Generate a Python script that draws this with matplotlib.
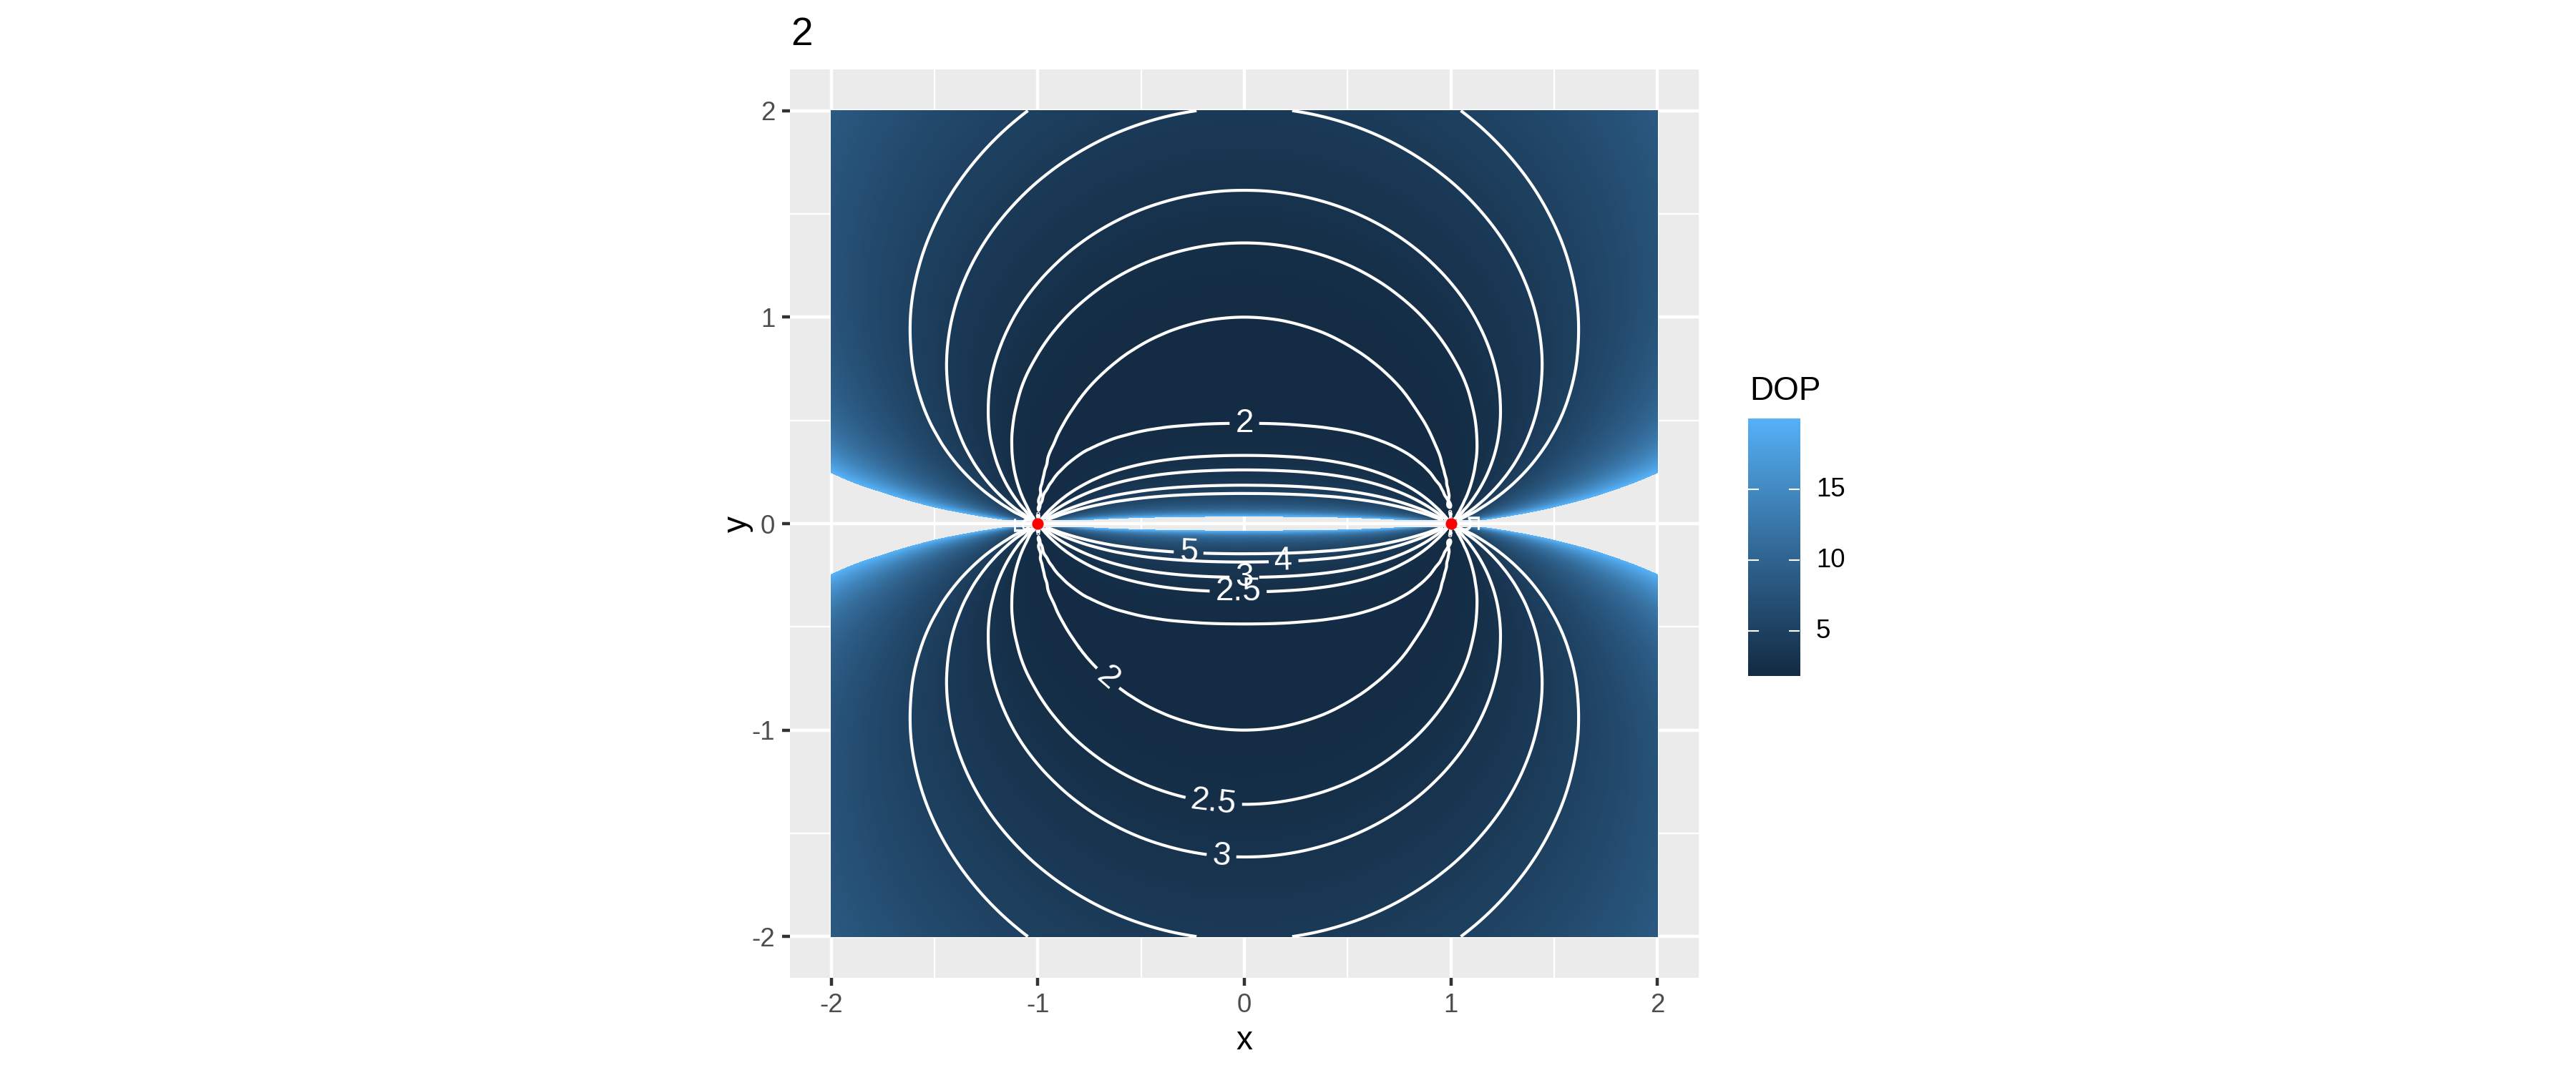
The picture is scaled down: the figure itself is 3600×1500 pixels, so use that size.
import numpy as np
import matplotlib
matplotlib.use('Agg')
import matplotlib.pyplot as plt
import matplotlib.tri as mtri
from matplotlib.colors import LinearSegmentedColormap

plt.rcParams['font.family'] = ['Liberation Sans', 'DejaVu Sans']

W, H = 3600, 1500

# the anchors
anchor_x = [-1, 1]
anchor_y = [0, 0]

# contour levels and where each label sits on its line
levels = [2, 2.5, 3, 4, 5]
level_names = ['2', '2.5', '3', '4', '5']
upper_label_x = [0]
upper_label_y = [0.48]
lower_label_x = [-0.67, -0.03, -0.15, 0, -0.11, 0.19, -0.27]
lower_label_y = [-0.76, -0.325, -1.36, -0.255, -1.6, -0.186, -0.141]

ticks = [-2, -1, 0, 1, 2]
minor_ticks = [-1.5, -0.5, 0.5, 1.5]
legend_ticks = [5, 10, 15]
dop_min, dop_max = 1.82, 20

# DOP estimated at nodes of one quadrant (the rest is mirrored). The node values
# were worked out with a distance/angle relation that fits the contour crossings
# and the colour bar, not measured one by one.
node_x = [0, .2, .4, .6, .7, .8, .85, .9, .95, 1, 1.05, 1.1, 1.15, 1.2, 1.3, 1.4, 1.6, 1.8, 2]
node_y = [.02, .03, .04, .05, .06, .08, .1, .13, .16, .2, .25, .3, .4, .5, .6, .8, 1, 1.2, 1.4, 1.6, 1.8, 2]
node_dop = [
    [35.38, 34.64, 32.01, 26.43, 22.06, 16.38, 12.99, 9.218, 5.122, 2, 5.66, 11.26, 17.53, 24.42, 40.1, 58.47, 104.1, 163.1, 236],
    [23.6, 23.11, 21.36, 17.65, 14.75, 10.99, 8.758, 6.293, 3.698, 2.001, 4.087, 7.685, 11.82, 16.39, 26.81, 39.05, 69.48, 108.8, 158.2],
    [17.72, 17.35, 16.05, 13.27, 11.11, 8.317, 6.668, 4.87, 3.046, 2.001, 3.367, 5.947, 8.997, 12.4, 20.19, 29.35, 52.17, 81.66, 118.7],
    [14.2, 13.9, 12.86, 10.65, 8.937, 6.728, 5.435, 4.046, 2.692, 2.002, 2.975, 4.94, 7.333, 10.03, 16.24, 23.55, 41.79, 65.39, 95.02],
    [11.85, 11.6, 10.74, 8.912, 7.496, 5.682, 4.63, 3.518, 2.479, 2.003, 2.74, 4.296, 6.246, 8.466, 13.61, 19.7, 34.89, 54.55, 79.24],
    [8.924, 8.743, 8.103, 6.752, 5.713, 4.402, 3.659, 2.901, 2.248, 2.005, 2.484, 3.541, 4.934, 6.556, 10.37, 14.91, 26.28, 41.02, 59.54],
    [7.177, 7.034, 6.53, 5.471, 4.664, 3.661, 3.109, 2.567, 2.135, 2.007, 2.358, 3.132, 4.19, 5.45, 8.459, 12.07, 21.15, 32.93, 47.74],
    [5.578, 5.47, 5.094, 4.309, 3.722, 3.014, 2.641, 2.296, 2.051, 2.013, 2.266, 2.801, 3.557, 4.482, 6.74, 9.487, 16.44, 25.5, 36.89],
    [4.59, 4.506, 4.211, 3.604, 3.159, 2.64, 2.38, 2.154, 2.013, 2.019, 2.222, 2.626, 3.202, 3.921, 5.709, 7.913, 13.54, 20.88, 30.14],
    [3.75, 3.686, 3.464, 3.017, 2.699, 2.347, 2.184, 2.054, 1.991, 2.03, 2.197, 2.502, 2.934, 3.479, 4.863, 6.595, 11.06, 16.93, 24.34],
    [3.098, 3.051, 2.891, 2.577, 2.365, 2.147, 2.057, 1.997, 1.987, 2.047, 2.191, 2.428, 2.756, 3.172, 4.24, 5.597, 9.14, 13.82, 19.75],
    [2.682, 2.648, 2.531, 2.31, 2.17, 2.04, 1.995, 1.976, 1.996, 2.067, 2.199, 2.398, 2.666, 3.001, 3.867, 4.978, 7.906, 11.8, 16.74],
    [2.209, 2.191, 2.132, 2.033, 1.983, 1.956, 1.961, 1.986, 2.037, 2.12, 2.239, 2.399, 2.602, 2.85, 3.483, 4.298, 6.468, 9.381, 13.09],
    [1.976, 1.97, 1.95, 1.926, 1.927, 1.956, 1.987, 2.033, 2.099, 2.187, 2.3, 2.442, 2.614, 2.818, 3.328, 3.977, 5.708, 8.041, 11.02],
    [1.869, 1.871, 1.878, 1.905, 1.939, 2, 2.046, 2.104, 2.178, 2.268, 2.378, 2.51, 2.665, 2.844, 3.282, 3.831, 5.283, 7.238, 9.735],
    [1.856, 1.869, 1.912, 2, 2.071, 2.168, 2.229, 2.299, 2.381, 2.475, 2.582, 2.703, 2.841, 2.994, 3.356, 3.795, 4.928, 6.433, 8.346],
    [2, 2.02, 2.085, 2.207, 2.298, 2.413, 2.481, 2.558, 2.643, 2.739, 2.844, 2.961, 3.09, 3.232, 3.557, 3.94, 4.905, 6.163, 7.746],
    [2.246, 2.271, 2.351, 2.494, 2.596, 2.722, 2.794, 2.875, 2.963, 3.059, 3.164, 3.279, 3.403, 3.539, 3.843, 4.195, 5.062, 6.17, 7.547],
    [2.572, 2.601, 2.69, 2.849, 2.958, 3.09, 3.166, 3.249, 3.338, 3.435, 3.54, 3.654, 3.776, 3.907, 4.199, 4.532, 5.337, 6.348, 7.589],
    [2.969, 3, 3.097, 3.265, 3.38, 3.517, 3.595, 3.679, 3.77, 3.867, 3.972, 4.085, 4.206, 4.335, 4.619, 4.939, 5.703, 6.648, 7.795],
    [3.43, 3.463, 3.565, 3.741, 3.86, 4.001, 4.08, 4.165, 4.257, 4.355, 4.461, 4.573, 4.692, 4.82, 5.098, 5.411, 6.146, 7.044, 8.124],
    [3.953, 3.988, 4.094, 4.276, 4.398, 4.541, 4.621, 4.708, 4.8, 4.899, 5.004, 5.116, 5.236, 5.362, 5.637, 5.943, 6.658, 7.522, 8.551],
]

# extra columns, needed around the pinch next to the anchor
extra_x = [.1, .3, .5, .97, .99]
extra_dop = [
    [35.2, 33.61, 29.68, 3.499, 2.214],
    [23.48, 22.43, 19.81, 2.745, 2.088],
    [17.63, 16.84, 14.89, 2.427, 2.042],
    [14.12, 13.5, 11.94, 2.265, 2.021],
    [11.79, 11.27, 9.975, 2.173, 2.01],
    [8.88, 8.493, 7.536, 2.078, 2],
    [7.143, 6.837, 6.084, 2.034, 1.997],
    [5.552, 5.323, 4.762, 2.005, 1.999],
    [4.57, 4.39, 3.953, 1.994, 2.003],
    [3.734, 3.599, 3.272, 1.993, 2.013],
    [3.086, 2.988, 2.755, 2.002, 2.029],
    [2.674, 2.602, 2.434, 2.018, 2.049],
    [2.204, 2.167, 2.087, 2.066, 2.1],
    [1.975, 1.961, 1.936, 2.131, 2.167],
    [1.87, 1.873, 1.887, 2.212, 2.249],
    [1.86, 1.886, 1.949, 2.417, 2.455],
    [2.005, 2.047, 2.138, 2.68, 2.719],
    [2.252, 2.304, 2.413, 3, 3.039],
    [2.579, 2.638, 2.76, 3.376, 3.415],
    [2.976, 3.04, 3.171, 3.808, 3.847],
    [3.438, 3.505, 3.644, 4.296, 4.335],
    [3.962, 4.032, 4.175, 4.839, 4.879],
]

# ggplot's default blue gradient
dop_cmap = LinearSegmentedColormap.from_list('dop', ['#132B43', '#336A98', '#56B1F7'])


# axes rectangle from pixel edges of the 3600x1500 picture
def pixel_axes(fig, left, top, right, bottom):
    return fig.add_axes([left/W, 1 - bottom/H, (right - left)/W, (bottom - top)/H])


fig = plt.figure(figsize=(12, 5), dpi=300)
ax = pixel_axes(fig, 1104, 97, 2374, 1367)

# merge the columns and mirror the quadrant into the upper half plane
quad_x = np.concatenate((node_x, extra_x))
quad = np.hstack((np.array(node_dop), np.array(extra_dop)))
order = np.argsort(quad_x)
quad_x = quad_x[order]
quad = quad[:, order]
half = np.hstack((quad[:, :0:-1], quad))
half_x = np.concatenate((-quad_x[:0:-1], quad_x))
mesh_x, mesh_y = np.meshgrid(half_x, node_y)

# the library's refiner gives smooth lines through the nodes
upper_tri = mtri.Triangulation(mesh_x.ravel(), mesh_y.ravel())
refiner = mtri.UniformTriRefiner(upper_tri)
fine_upper, fine_log = refiner.refine_field(np.log(half).ravel(), subdiv=3)
fine_lower = mtri.Triangulation(fine_upper.x, -fine_upper.y, fine_upper.triangles)

# panel in the ggplot grey style
ax.set_facecolor('#EBEBEB')
ax.set_xlim(-2.2, 2.2)
ax.set_ylim(-2.2, 2.2)
for t in ticks:
    ax.axvline(t, color='white', lw=1.07, zorder=0)
    ax.axhline(t, color='white', lw=1.07, zorder=0)
for t in minor_ticks:
    ax.axvline(t, color='white', lw=0.53, zorder=0)
    ax.axhline(t, color='white', lw=0.53, zorder=0)
for s in ax.spines.values():
    s.set_visible(False)
ax.set_xticks(ticks)
ax.set_yticks(ticks)
ax.set_xticklabels([str(t) for t in ticks])
ax.set_yticklabels([str(t) for t in ticks])
ax.tick_params(length=2.75, width=1.07, color='#333333', labelcolor='#4D4D4D', labelsize=8.8, pad=2.2)

# the fill stops at DOP 20, above that the panel shows through
fill_steps = np.linspace(dop_min, dop_max, 200)
fill_colors = dop_cmap((fill_steps[:-1] - dop_min)/(dop_max - dop_min))
fill_edges = np.log(np.concatenate(([1.5], fill_steps[1:])))
log_levels = np.log(levels)

for tri, label_x, label_y in [(fine_upper, upper_label_x, upper_label_y),
                              (fine_lower, lower_label_x, lower_label_y)]:
    ax.tricontourf(tri, fine_log, levels=fill_edges, colors=fill_colors, zorder=1)
    cs = ax.tricontour(tri, fine_log, levels=log_levels, colors='white', linewidths=1.0, zorder=2)
    names = dict(zip(cs.levels, level_names))
    labels = ax.clabel(cs, fmt=names, fontsize=11, colors='white', inline=True, inline_spacing=8,
                       manual=list(zip(label_x, label_y)))
    for lab in labels:
        lab.set_zorder(3)

# two labels squeezed in right next to the anchors
ax.text(1.06, 0, '5', color='white', fontsize=11, rotation=-90, ha='center', va='center', zorder=3)
ax.text(-1.05, 0, '5', color='white', fontsize=11, rotation=90, ha='center', va='center', zorder=3)

ax.scatter(anchor_x, anchor_y, s=15, color='red', linewidths=0, zorder=4)

# titles
fig.text(1105/W, 1 - 63/H, '2', fontsize=13.2, color='black', ha='left', va='baseline')
fig.text(1739/W, 1 - 1467/H, 'x', fontsize=11, color='black', ha='center', va='baseline')
fig.text(1031/W, 1 - 732/H, 'y', fontsize=11, color='black', rotation=90, ha='center', va='center')

# legend
cax = pixel_axes(fig, 2443, 585, 2515, 945)
ramp = np.linspace(dop_min, dop_max, 256).reshape(-1, 1)
cax.imshow(ramp, origin='lower', aspect='auto', cmap=dop_cmap, vmin=dop_min, vmax=dop_max,
           extent=[0, 1, dop_min, dop_max])
cax.set_xlim(0, 1)
cax.set_ylim(dop_min, dop_max)
for s in cax.spines.values():
    s.set_visible(False)
cax.set_xticks([])
cax.set_yticks([])
for t in legend_ticks:
    cax.plot([0, 0.2], [t, t], color='white', lw=0.5)
    cax.plot([0.8, 1], [t, t], color='white', lw=0.5)
    cax.annotate(str(t), xy=(1, t), xycoords=('axes fraction', 'data'), xytext=(23/W*12*72, 0),
                 textcoords='offset points', fontsize=8.8, color='black', ha='left', va='center')
fig.text(2445/W, 1 - 559/H, 'DOP', fontsize=11, color='black', ha='left', va='baseline')

fig.savefig('out.png', dpi=300)
